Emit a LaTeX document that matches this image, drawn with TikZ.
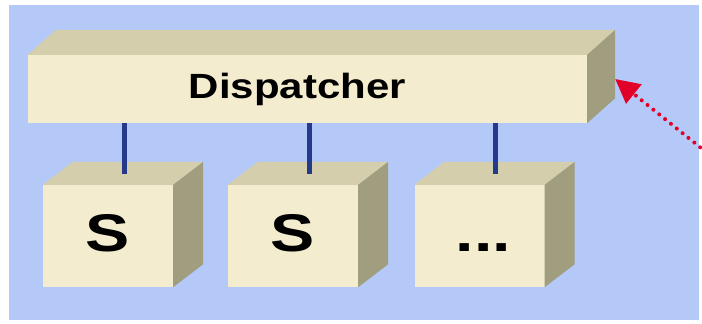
\documentclass[tikz,border=0pt]{standalone}
\usepackage{fontspec}
\setmainfont{Liberation Sans}
\usetikzlibrary{arrows.meta,calc}
\definecolor{panel}{RGB}{180,201,247}
\definecolor{frontc}{RGB}{243,236,206}
\definecolor{topc}{RGB}{213,206,172}
\definecolor{sidec}{RGB}{161,157,127}
\definecolor{linkc}{RGB}{38,58,140}
\definecolor{arrowc}{RGB}{226,0,40}
\tikzset{
  frontbox/.style={fill=frontc, inner sep=0pt, font=\bfseries},
  link/.style={draw=linkc, line width=5pt},
  dotarrow/.style={draw=arrowc, line width=4pt, line cap=round, dash pattern=on 0pt off 7.5pt,
    -{Triangle[length=24pt,width=24pt,line cap=butt,fill=arrowc]}}
}
\newcommand{\cubefaces}[3]{% node, dx, dy (y down)
  \fill[topc] (#1.north west) -- ++(#2,-#3) -- ($(#1.north east)+(#2,-#3)$) -- (#1.north east) -- cycle;
  \fill[sidec] (#1.north east) -- ++(#2,-#3) -- ($(#1.south east)+(#2,-#3)$) -- (#1.south east) -- cycle;
}
\begin{document}
\begin{tikzpicture}[x=1pt,y=-1pt]
\useasboundingbox (0,0) rectangle (702,324);
\fill[white] (0,0) rectangle (702,324);
\fill[panel] (9,5) rectangle (699,320);
% dispatcher
\node[frontbox, minimum width=559pt, minimum height=68pt, text height=25pt, text depth=7pt,
  font=\bfseries\fontsize{35}{37}\selectfont] (d) at (307.5,89) {\hspace*{-20pt}\scalebox{1.2}[1]{Dispatcher}};
\cubefaces{d}{28}{25}
% servers
\tikzset{srv/.style={frontbox, minimum width=130pt, minimum height=102pt, text height=38pt, text depth=8pt,
  font=\bfseries\fontsize{53}{55}\selectfont}}
\node[srv] (s1) at (108,236) {\scalebox{1.25}[1]{S}};
\node[srv] (s2) at (293,236) {\scalebox{1.25}[1]{S}};
\node[srv] (s3) at (479.5,236) {\hspace*{8pt}\scalebox{1.25}[1]{...}};
\cubefaces{s1}{30}{23}
\cubefaces{s2}{30}{23}
\cubefaces{s3}{30}{23}
% links
\foreach \s in {s1,s2,s3}{
  \coordinate (\s t) at ($(\s.north)+(16,-11)$);
  \draw[link] (\s t |- d.south) -- (\s t);
}
% arrow
\coordinate (astart) at (706,152);
\coordinate (atip) at ($(d.east)+(28,-10)$);
\draw[dotarrow] (astart) -- (atip);
\end{tikzpicture}
\end{document}
